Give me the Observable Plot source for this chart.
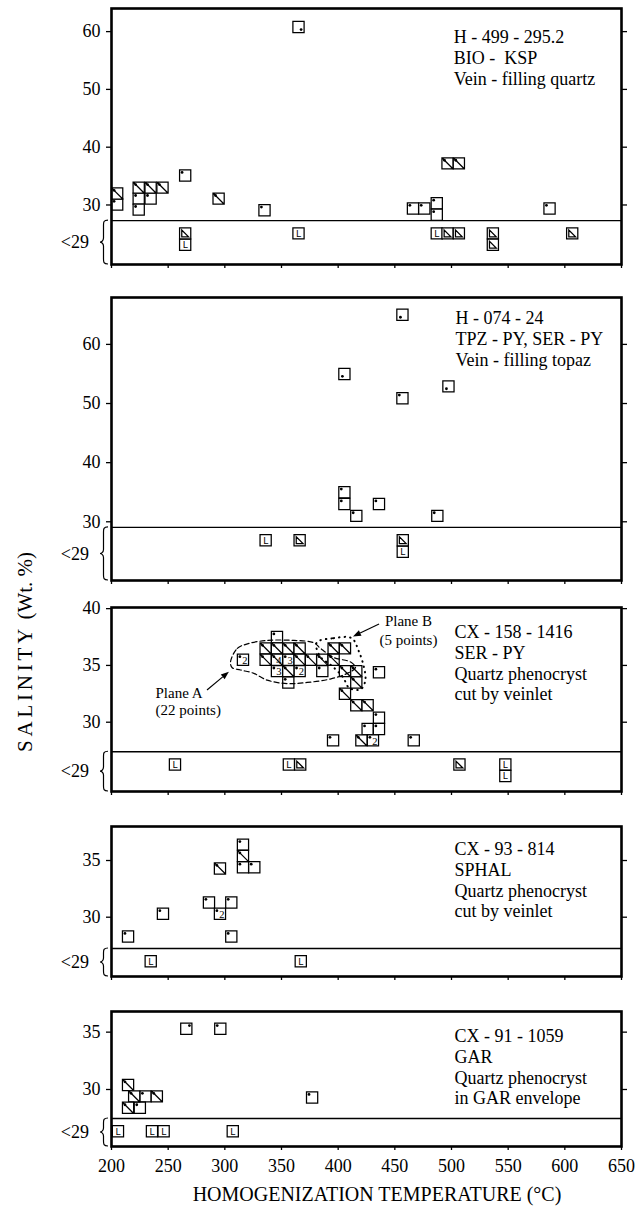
<!DOCTYPE html>
<html><head><meta charset="utf-8">
<script src="https://cdn.jsdelivr.net/npm/d3@7"></script>
<script src="https://cdn.jsdelivr.net/npm/@observablehq/plot@0.6"></script>
<style>
body{margin:0;background:#fff;}
#wrap{position:relative;width:635px;height:1215px;overflow:hidden;font-family:"Liberation Serif","Times New Roman",serif;}
#wrap > svg{position:absolute;left:0;}
</style></head><body><div id="wrap"></div>
<script>
// ---------------- DATA ----------------
const xTicks = [200, 250, 300, 350, 400, 450, 500, 550, 600, 650];

// symbol codes: d = dot, x = diagonal, t = triangle, L = liquid; suffix tr/br/bl = dot corner; digit = count
// Panel 1 : H-499-295.2  [temperature, salinity, symbol]
const p1Points = [
  [365, 60.8, "dbr"],
  [205, 32.0, "x"], [205, 30.1, "d"],
  [224, 33.0, "x"], [234.5, 33.0, "x"], [245, 33.0, "x"],
  [224, 31.1, "d"], [234.5, 31.1, "d"], [224, 29.2, "d"],
  [265, 35.1, "d"], [294.5, 31.1, "x"], [335, 29.1, "d"],
  [496.5, 37.2, "x"], [506.5, 37.2, "x"],
  [466, 29.4, "d"], [476, 29.4, "d"], [487, 30.3, "d"], [487, 28.3, "d"],
  [586.5, 29.4, "d"]
];
// below 29 wt.% : [temperature, symbol]
const p1Low = [[265, "t"], [265, "L"], [365, "L"], [487, "L"], [496.5, "t"], [506.5, "t"], [536.5, "t"], [536.5, "t"], [606.5, "t"]];
const p1Note = "H - 499 - 295.2\nBIO -\u00a0 KSP\nVein - filling quartz";

// Panel 2 : H-074-24
const p2Points = [
  [456.7, 65.0, "dbl"], [405.5, 55.0, "dbl"], [497.3, 52.9, "dbl"], [456.7, 50.9, "d"],
  [405.5, 35.0, "d"], [405.5, 33.0, "d"], [416, 31.0, "d"], [436, 33.0, "d"], [487.5, 31.0, "d"]
];
const p2Low = [[336, "L"], [366, "t"], [457, "t"], [457, "L"]];
const p2Note = "H - 074 - 24\nTPZ - PY, SER - PY\nVein - filling topaz";

// Panel 3 : CX-158-1416
const p3Points = [
  [346, 37.5, "d"],
  [336, 36.5, "x"], [346, 36.5, "x"], [356, 36.5, "x"], [366, 36.5, "x"], [396, 36.5, "x"], [406, 36.5, "x"],
  [316, 35.5, "d2"], [336, 35.5, "x"], [346, 35.5, "x4"], [356, 35.5, "d3"], [366, 35.5, "x"], [376, 35.5, "x"], [386, 35.5, "x"], [396, 35.5, "x"],
  [346, 34.5, "d3"], [356, 34.5, "x"], [366, 34.5, "d2"], [386, 34.5, "d"], [406, 34.5, "x"], [416, 34.5, "x"], [436, 34.4, "d"],
  [356, 33.5, "d"], [416, 33.5, "x"],
  [406, 32.5, "x"],
  [416, 31.5, "x"], [426, 31.5, "x"],
  [436, 30.4, "d"],
  [426, 29.4, "d"], [436, 29.4, "d"],
  [395.5, 28.4, "d"], [420.5, 28.4, "x"], [430.7, 28.4, "d2"], [466.7, 28.4, "d"]
];
const p3Low = [[256, "L"], [356.5, "L"], [366.5, "t"], [507, "t"], [547.5, "L"], [547.5, "L"]];
const p3Note = "CX - 158 - 1416\nSER - PY\nQuartz phenocryst\ncut by veinlet";
const planeA = [[305,35.3],[311,36.5],[320,36.9],[337,37.2],[361,37.2],[378.5,37.0],[384.4,36.5],[396,35.7],[411,35.3],[415.3,34.8],[408,34.3],[393,33.8],[372.7,33.5],[355,33.4],[337.4,33.7],[325.6,34.3],[313.8,34.6],[306.5,34.8]];
const planeB = [[381,37.0],[396,37.4],[412,37.4],[418,36.3],[422.6,34.9],[424,33.7],[420,32.9],[410,33.0],[404,34.0],[394,35.0],[384,35.8]];
const planeLabels = [
  {x: 238.8, y: 31.87, text: "Plane A\n(22 points)", ax1: 284.7, ay1: 32.8, ax2: 304, ay2: 34.4, anchor: "start"},
  {x: 462, y: 38.19, text: "Plane B\n(5 points)", ax1: 436.5, ay1: 38.6, ax2: 413.5, ay2: 37.5, anchor: "middle"}
];

// Panel 4 : CX-93-814
const p4Points = [
  [316, 36.4, "d"], [316, 35.4, "x"], [316, 34.4, "d"], [326, 34.4, "d"], [295.7, 34.3, "x"],
  [286, 31.3, "d"], [305.7, 31.3, "d"], [295.7, 30.3, "d2"], [245.4, 30.3, "d"],
  [214.6, 28.3, "d"], [305.7, 28.3, "d"]
];
const p4Low = [[234.6, "L"], [367, "L"]];
const p4Note = "CX - 93 - 814\nSPHAL\nQuartz phenocryst\ncut by veinlet";

// Panel 5 : CX-91-1059
const p5Points = [
  [266, 35.3, "dtr"], [296, 35.3, "d"],
  [214.6, 30.4, "x"], [220, 29.4, "x"], [230, 29.4, "d"], [240, 29.4, "x"],
  [214.6, 28.4, "x"], [225, 28.4, "d"], [377, 29.3, "d"]
];
const p5Low = [[205.7, "L"], [235.7, "L"], [246, "L"], [307, "L"]];
const p5Note = "CX - 91 - 1059\nGAR\nQuartz phenocryst\nin GAR envelope";

// ---------------- LAYOUT ----------------
const panels = [
  {pts: p1Points, low: p1Low, note: p1Note, top: 8,    bottom: 264,  dom: [19.7, 64.0],  sep: 27.3,  ticks: [30, 40, 50, 60], noteX: 502, noteDy: 20},
  {pts: p2Points, low: p2Low, note: p2Note, top: 297,  bottom: 580,  dom: [20.07, 67.93], sep: 29.04, ticks: [30, 40, 50, 60], noteX: 503.5, noteDy: 12},
  {pts: p3Points, low: p3Low, note: p3Note, top: 607,  bottom: 791,  dom: [23.9, 40.1],  sep: 27.4,  ticks: [30, 35, 40], noteX: 502.6, noteDy: 16, planes: true},
  {pts: p4Points, low: p4Low, note: p4Note, top: 826,  bottom: 976,  dom: [24.77, 38.0], sep: 27.24, ticks: [30, 35], noteX: 502.6, noteDy: 14},
  {pts: p5Points, low: p5Low, note: p5Note, top: 1011, bottom: 1146, dom: [25.03, 36.8], sep: 27.47, ticks: [30, 35], noteX: 502.6, noteDy: 16}
];

const FONT = "Liberation Serif, Times New Roman, serif";
const NS = "http://www.w3.org/2000/svg";
function sqPath(ctx, h) { ctx.moveTo(-h, -h); ctx.lineTo(h, -h); ctx.lineTo(h, h); ctx.lineTo(-h, h); ctx.closePath(); }
const half = size => Math.sqrt(size / Math.PI);
const symSquare = {draw(ctx, size) { sqPath(ctx, half(size)); }};
const symDiag = {draw(ctx, size) { const h = half(size); sqPath(ctx, h); ctx.moveTo(-h, -h); ctx.lineTo(h, h); }};
const symTri = {draw(ctx, size) { const h = half(size); sqPath(ctx, h); const a = h - 2.2; ctx.moveTo(-a, -a); ctx.lineTo(-a, a); ctx.lineTo(a, a); ctx.closePath(); }};

function parse(sym) {
  const m = /^([dxtL])(tr|br|bl)?(\d)?$/.exec(sym);
  return {base: m[1], pos: m[2] || "tl", n: m[3] ? m[3] : null};
}
const dotOffsets = {tl: [-3.1, -3.1], tr: [3.1, -3.1], br: [2.6, 2.6], bl: [-2.0, 2.4]};

function bracket(sep) {
  return (index, scales, values, dims) => {
    const g = document.createElementNS(NS, "g");
    const y0 = scales.y(sep), y1 = dims.height - dims.marginBottom;
    const xe = dims.marginLeft - 3, xt = dims.marginLeft - 11, xm = dims.marginLeft - 7.5;
    const ym = (y0 + y1) / 2;
    const p = document.createElementNS(NS, "path");
    p.setAttribute("d", `M${xe},${y0} C${xm},${y0} ${xm},${y0 + 2} ${xm},${y0 + 5} L${xm},${ym - 4} C${xm},${ym - 1} ${xt + 1},${ym} ${xt},${ym} C${xt + 1},${ym} ${xm},${ym + 1} ${xm},${ym + 4} L${xm},${y1 - 5} C${xm},${y1 - 2} ${xm},${y1} ${xe},${y1}`);
    p.setAttribute("fill", "none"); p.setAttribute("stroke", "black"); p.setAttribute("stroke-width", "1.2");
    g.appendChild(p);
    const t = document.createElementNS(NS, "text");
    t.setAttribute("x", dims.marginLeft - 22); t.setAttribute("y", ym); t.setAttribute("dy", "0.35em");
    t.setAttribute("text-anchor", "end"); t.setAttribute("font-size", "18"); t.setAttribute("font-family", FONT);
    t.textContent = "<29";
    g.appendChild(t);
    return g;
  };
}

// arrows with filled heads, drawn from the data of planeLabels through the scales
function arrows(data) {
  return (index, scales) => {
    const g = document.createElementNS(NS, "g");
    for (const d of data) {
      const x1 = scales.x(d.ax1), y1 = scales.y(d.ay1), x2 = scales.x(d.ax2), y2 = scales.y(d.ay2);
      const a = Math.atan2(y2 - y1, x2 - x1), L = 8, W = 3;
      const bx = x2 - L * Math.cos(a), by = y2 - L * Math.sin(a);
      const line = document.createElementNS(NS, "path");
      line.setAttribute("d", `M${x1},${y1}L${bx},${by}`);
      line.setAttribute("stroke", "black"); line.setAttribute("stroke-width", "1.2");
      g.appendChild(line);
      const head = document.createElementNS(NS, "path");
      head.setAttribute("d", `M${x2},${y2}L${bx - W * Math.sin(a)},${by + W * Math.cos(a)}L${bx + W * Math.sin(a)},${by - W * Math.cos(a)}Z`);
      head.setAttribute("fill", "black");
      g.appendChild(head);
    }
    return g;
  };
}

const wrap = document.getElementById("wrap");
panels.forEach((cfg, i) => {
  const last = i === panels.length - 1;
  const mt = 6, mb = last ? 30 : 8;
  const innerH = cfg.bottom - cfg.top;
  const ppu = innerH / (cfg.dom[1] - cfg.dom[0]);
  const seen = new Map();
  const lows = cfg.low.map(([T, sym]) => {
    const k = seen.get(T) || 0; seen.set(T, k + 1);
    return {T, S: cfg.sep - (12.8 + 11.4 * k) / ppu, ...parse(sym)};
  });
  const pts = cfg.pts.map(([T, S, sym]) => ({T, S, ...parse(sym)})).concat(lows);
  const sqOpts = {x: "T", y: "S", r: 5.6, fill: "white", stroke: "black", strokeWidth: 1.25};
  const marks = [
    Plot.ruleY([cfg.sep], {stroke: "black", strokeWidth: 1.3}),
    Plot.dot(pts.filter(d => d.base === "d" || d.base === "L"), {...sqOpts, symbol: symSquare}),
    Plot.dot(pts.filter(d => d.base === "x"), {...sqOpts, symbol: symDiag}),
    Plot.dot(pts.filter(d => d.base === "t"), {...sqOpts, symbol: symTri}),
    ...Object.entries(dotOffsets).map(([pos, [dx, dy]]) =>
      Plot.dot(pts.filter(d => (d.base === "d" || d.base === "x") && d.pos === pos), {x: "T", y: "S", r: 1.4, fill: "black", dx, dy})),
    Plot.text(pts.filter(d => d.base === "L"), {x: "T", y: "S", text: () => "L", fontFamily: "DejaVu Sans", fontSize: 9, dy: 0.5}),
    Plot.text(pts.filter(d => d.n), {x: "T", y: "S", text: "n", fontFamily: FONT, fontSize: 10.5, dx: 1.8, dy: 1}),
    Plot.text([cfg.note], {x: cfg.noteX, frameAnchor: "top", text: d => d, textAnchor: "start", lineAnchor: "top", dy: cfg.noteDy, lineHeight: 1.15, fontSize: 18, fontFamily: FONT}),
    Plot.axisY({ticks: cfg.ticks, tickSize: 5, tickPadding: 6, label: null, fontSize: 18, strokeWidth: 1.3}),
    Plot.axisY({anchor: "right", ticks: cfg.ticks, tickSize: 5, tickFormat: () => "", label: null, strokeWidth: 1.3}),
    Plot.axisX({ticks: xTicks, tickSize: 4, tickPadding: 9, tickFormat: last ? d => String(d) : () => "", label: null, fontSize: 18, strokeWidth: 1.3}),
    bracket(cfg.sep)
  ];
  if (cfg.planes) {
    marks.push(
      Plot.line(planeA, {x: d => d[0], y: d => d[1], curve: "catmull-rom-closed", stroke: "black", strokeWidth: 1.2, strokeDasharray: "5,3"}),
      Plot.line(planeB, {x: d => d[0], y: d => d[1], curve: "catmull-rom-closed", stroke: "black", strokeWidth: 2, strokeDasharray: "0.5,5", strokeLinecap: "round"}),
      arrows(planeLabels),
      Plot.text(planeLabels.filter(d => d.anchor === "start"), {x: "x", y: "y", text: "text", textAnchor: "start", lineHeight: 1.13, fontSize: 15, fontFamily: FONT}),
      Plot.text(planeLabels.filter(d => d.anchor === "middle"), {x: "x", y: "y", text: "text", textAnchor: "middle", lineHeight: 1.27, fontSize: 15, fontFamily: FONT})
    );
  }
  marks.push(Plot.frame({stroke: "black", strokeWidth: 2.6}));
  const svg = Plot.plot({
    width: 635, height: mt + innerH + mb,
    marginLeft: 111, marginRight: 14, marginTop: mt, marginBottom: mb,
    x: {domain: [200, 650]}, y: {domain: cfg.dom},
    style: {background: "none", fontFamily: FONT, fontSize: "18px", color: "black", overflow: "visible"},
    marks
  });
  svg.style.top = (cfg.top - mt) + "px";
  wrap.appendChild(svg);
});

// axis titles
const ov = document.createElementNS(NS, "svg");
ov.setAttribute("width", 635); ov.setAttribute("height", 1215);
ov.style.top = "0px";
ov.innerHTML = `
<text x="377" y="1201" text-anchor="middle" font-size="20" font-family="${FONT}">HOMOGENIZATION TEMPERATURE (°C)</text>
<text transform="translate(31.5,752) rotate(-90)" font-size="21" font-family="${FONT}"><tspan letter-spacing="3.8">SALINITY</tspan><tspan> (Wt. %)</tspan></text>`;
wrap.appendChild(ov);
</script></body></html>
